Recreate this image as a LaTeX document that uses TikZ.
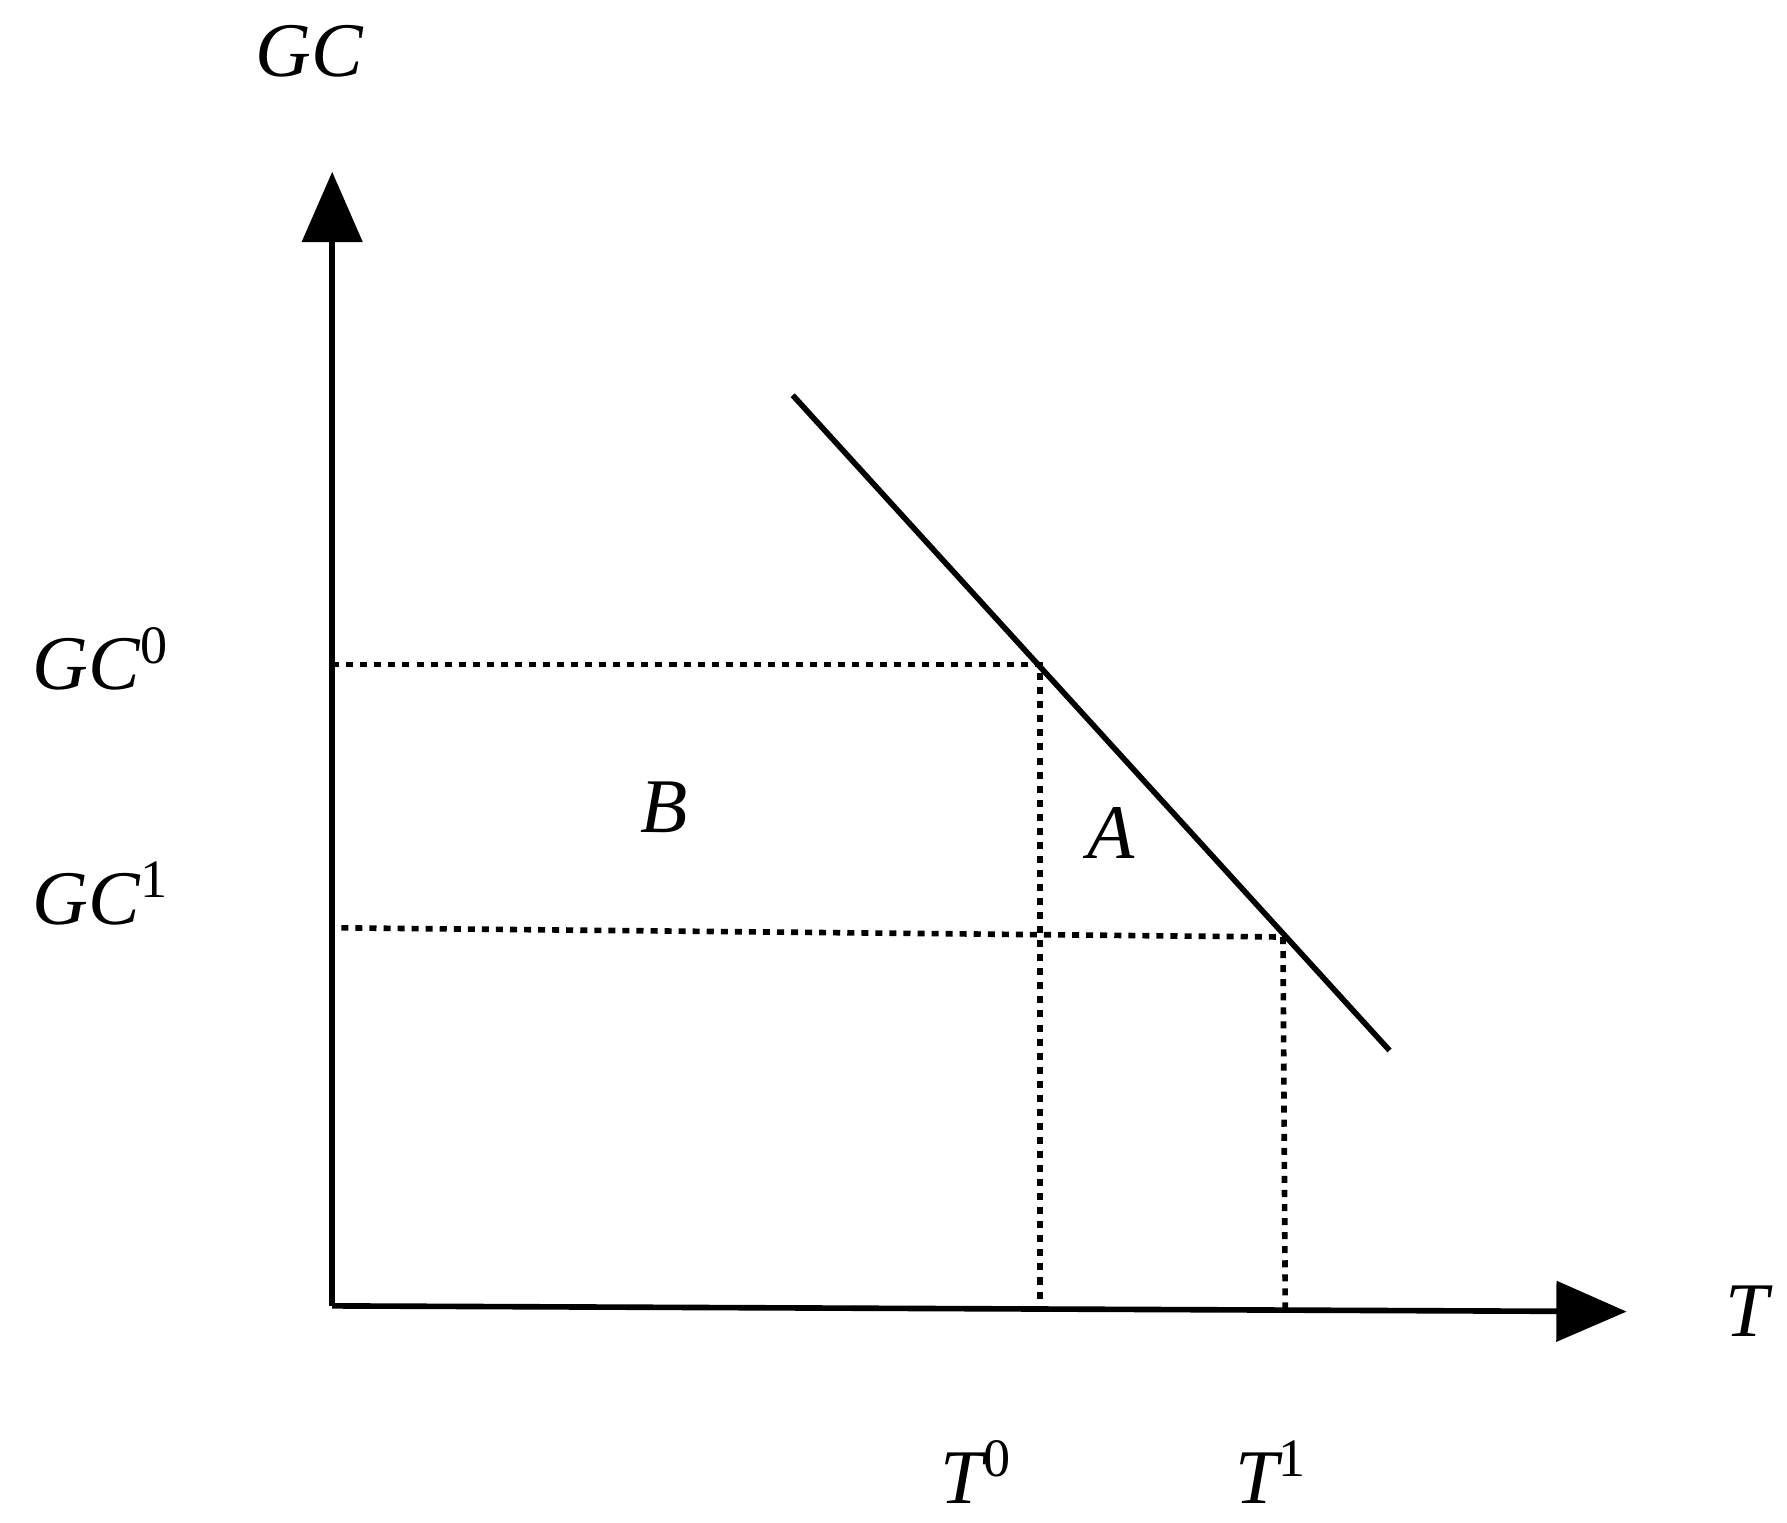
\documentclass[tikz,border=0pt]{standalone}
\usepackage{fontspec}
\setmainfont{Liberation Serif}
\usetikzlibrary{arrows.meta}
\begin{document}
\begin{tikzpicture}[x=0.011455cm,y=-0.011455cm,
  lbl/.style={font=\fontsize{22}{26}\selectfont\itshape, inner sep=0pt},
  axis/.style={line width=1.6pt,-{Triangle[length=20pt,width=17pt]}},
  dots/.style={line width=1.6pt,dash pattern=on 2pt off 2pt}]
\useasboundingbox (0,0) rectangle (1560,1329);
\coordinate (O) at (290,1140);
\coordinate (Ytip) at (290,150);
\coordinate (Xtip) at (1420,1145);
\draw[axis] (O) -- (Ytip);
\draw[axis] (O) -- (Xtip);
\coordinate (L0) at (692,345);
\coordinate (L1) at (1213,917);
\draw[line width=1.6pt] (L0) -- (L1);
\coordinate (P0) at (908,580);
\coordinate (P1) at (1120,818);
\coordinate (Y0) at (290,580);
\coordinate (Y1) at (298,810);
\coordinate (X0) at (908,1140);
\coordinate (X1) at (1122,1145);
\draw[dots] (Y0) -- (P0) -- (X0);
\draw[dots] (Y1) -- (P1);
\draw[dots] (P1) -- (X1);
\node[lbl] (gc) at (270,45) {GC};
\node[lbl] (gc0) at (88,575) {GC\textsuperscript{\upshape 0}};
\node[lbl] (gc1) at (88,780) {GC\textsuperscript{\upshape 1}};
\node[lbl] (b) at (580,705) {B};
\node[lbl] (a) at (970,727) {A};
\node[lbl] (t) at (1525,1145) {T};
\node[lbl] (t0) at (852,1285) {T\textsuperscript{\upshape 0}};
\node[lbl] (t1) at (1110,1285) {T\textsuperscript{\upshape 1}};
\end{tikzpicture}
\end{document}
